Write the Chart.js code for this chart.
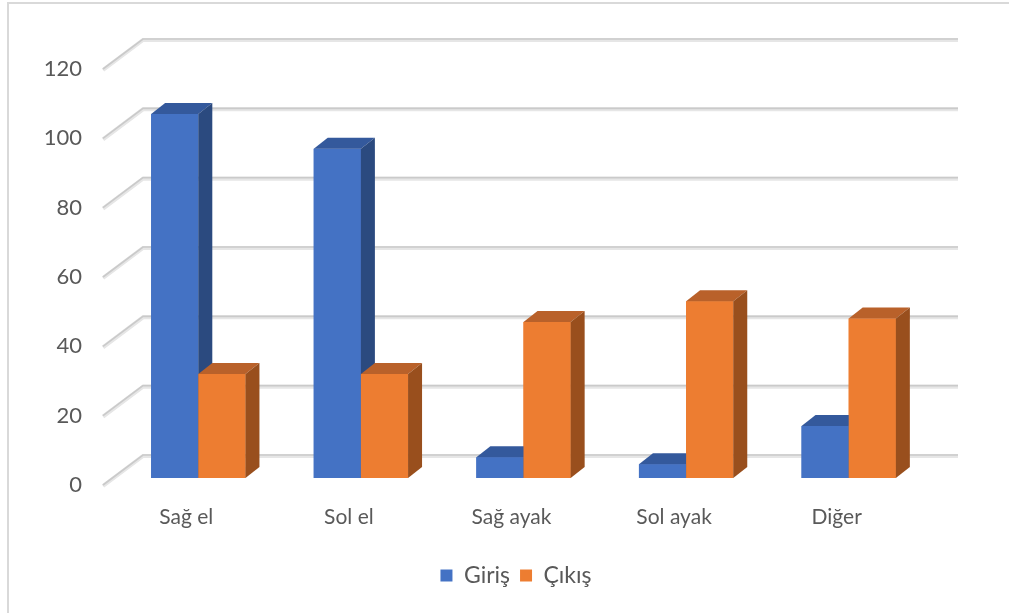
<!DOCTYPE html>
<html>
<head>
<meta charset="utf-8">
<script src="https://cdn.jsdelivr.net/npm/chart.js@4/dist/chart.umd.min.js"></script>
<style>
  body { margin: 0; background: #fff; }
  #wrap { width: 1009px; height: 613px; }
</style>
</head>
<body>
<div id="wrap"><canvas id="chart" width="1009" height="613"></canvas></div>
<script>
// data
const categories = ['Sağ el', 'Sol el', 'Sağ ayak', 'Sol ayak', 'Diğer'];
const girisValues = [105, 95, 6, 4, 15];
const cikisValues = [30, 30, 45, 51, 46];
const seriesNames = ['Giriş', 'Çıkış'];

// colours for the 3d faces
const frontColors = ['#4472C4', '#ED7D31'];
const topColors = ['#34599c', '#b9612a'];
const sideColors = ['#2b4a7f', '#994f1d'];

// fake 3d offsets (px)
const wallDepth = { x: 40, y: 30 };   // back wall
const barShift = { x: 12, y: 7 };     // bars sit a bit inside the floor
const barDepth = { x: 14, y: 11 };    // thickness of each bar
const legendShift = 57;               // legend is centred under the plot, not the canvas

const textColor = '#595959';
const fontFamily = 'Lato, "Open Sans", sans-serif';

function drawFaces(ctx, bar, i) {
  const p = bar.getProps(['x', 'y', 'base', 'width'], true);
  const l = p.x - p.width / 2;
  const r = p.x + p.width / 2;
  // top face
  ctx.fillStyle = topColors[i];
  ctx.beginPath();
  ctx.moveTo(l, p.y);
  ctx.lineTo(r, p.y);
  ctx.lineTo(r + barDepth.x, p.y - barDepth.y);
  ctx.lineTo(l + barDepth.x, p.y - barDepth.y);
  ctx.closePath();
  ctx.fill();
  // side face
  ctx.fillStyle = sideColors[i];
  ctx.beginPath();
  ctx.moveTo(r, p.y);
  ctx.lineTo(r + barDepth.x, p.y - barDepth.y);
  ctx.lineTo(r + barDepth.x, p.base - barDepth.y);
  ctx.lineTo(r, p.base);
  ctx.closePath();
  ctx.fill();
}

const frame3d = {
  id: 'frame3d',
  afterLayout(chart) {
    chart.legend.left += legendShift;
    chart.legend.right += legendShift;
  },
  beforeDraw(chart) {
    const ctx = chart.ctx;
    // outer frame
    ctx.save();
    ctx.strokeStyle = '#d9d9d9';
    ctx.lineWidth = 2;
    ctx.beginPath();
    ctx.moveTo(8, chart.height);
    ctx.lineTo(8, 3);
    ctx.lineTo(chart.width, 3);
    ctx.stroke();
    ctx.restore();
  },
  beforeDatasetsDraw(chart) {
    const ctx = chart.ctx;
    const area = chart.chartArea;
    const y = chart.scales.y;
    ctx.save();
    y.ticks.forEach(t => {
      const yf = y.getPixelForValue(t.value);
      const yb = yf - wallDepth.y;
      const pts = [[area.left - 2, yf], [area.left + wallDepth.x - 2, yb], [area.right + wallDepth.x, yb]];
      // soft shadow under the line
      ctx.strokeStyle = '#e6e6e6';
      ctx.lineWidth = 4;
      ctx.beginPath();
      ctx.moveTo(pts[0][0], pts[0][1] + 1);
      ctx.lineTo(pts[1][0], pts[1][1] + 1);
      ctx.lineTo(pts[2][0], pts[2][1] + 1);
      ctx.stroke();
      ctx.strokeStyle = '#cacaca';
      ctx.lineWidth = 1.6;
      ctx.beginPath();
      ctx.moveTo(pts[0][0], pts[0][1]);
      ctx.lineTo(pts[1][0], pts[1][1]);
      ctx.lineTo(pts[2][0], pts[2][1]);
      ctx.stroke();
    });
    ctx.restore();
    // bars are pushed back a little into the box
    ctx.save();
    ctx.translate(barShift.x, -barShift.y);
  },
  afterDatasetsDraw(chart) {
    const ctx = chart.ctx;
    // Chart.js paints the last dataset first; repaint left to right so
    // each bar's side face is hidden by its right neighbour
    chart.data.datasets.forEach((ds, i) => {
      chart.getDatasetMeta(i).data.forEach(bar => {
        bar.draw(ctx);
        drawFaces(ctx, bar, i);
      });
    });
    ctx.restore();
  }
};

const ctx = document.getElementById('chart').getContext('2d');
new Chart(ctx, {
  type: 'bar',
  data: {
    labels: categories,
    datasets: [
      { label: seriesNames[0], data: girisValues, backgroundColor: frontColors[0], clip: false },
      { label: seriesNames[1], data: cikisValues, backgroundColor: frontColors[1], clip: false }
    ]
  },
  options: {
    responsive: false,
    animation: false,
    layout: { padding: { left: 0, right: 91, top: 69, bottom: 16 } },
    datasets: {
      bar: { categoryPercentage: 0.58, barPercentage: 1 }
    },
    scales: {
      x: {
        grid: { display: false, drawTicks: false },
        border: { display: false },
        ticks: { color: textColor, font: { family: fontFamily, size: 21 }, padding: 20 },
        afterFit: s => { s.height = 69; }
      },
      y: {
        min: 0,
        max: 120,
        grid: { display: false, drawTicks: false },
        border: { display: false },
        ticks: { stepSize: 20, color: textColor, font: { family: fontFamily, size: 22 }, padding: 23 },
        afterFit: s => { s.width = 105; }
      }
    },
    plugins: {
      legend: {
        position: 'bottom',
        labels: {
          color: textColor,
          font: { family: fontFamily, size: 23 },
          boxWidth: 12,
          boxHeight: 12,
          padding: 10
        }
      },
      tooltip: { enabled: false }
    }
  },
  plugins: [frame3d]
});
</script>
</body>
</html>
